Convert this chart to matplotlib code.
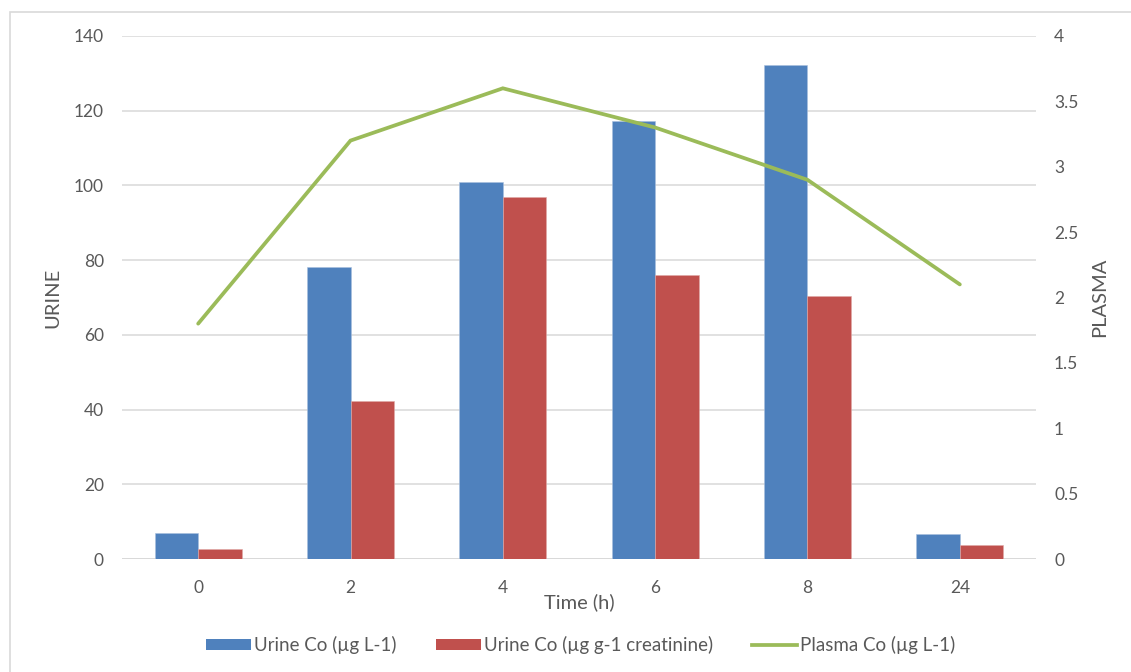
import matplotlib
matplotlib.use("Agg")
import matplotlib.pyplot as plt
from matplotlib.patches import Rectangle
from matplotlib.lines import Line2D
from matplotlib.patches import Patch
import numpy as np

# Data
time_labels = ["0", "2", "4", "6", "8", "24"]
urine_ug_per_l = [6.9, 78.1, 101.0, 117.3, 132.3, 6.7]
urine_ug_per_g_creat = [2.6, 42.4, 97.0, 76.1, 70.3, 3.7]
plasma_ug_per_l = [1.80, 3.20, 3.60, 3.30, 2.90, 2.10]

series_names = ["Urine Co (µg L-1)", "Urine Co (µg g-1 creatinine)", "Plasma Co (µg L-1)"]

BLUE = "#4F81BD"
RED = "#C0504D"
GREEN = "#9BBB59"
GRID = "#D9D9D9"
TEXT = "#595959"
FONT = "Lato"
FS = 12.5        # tick labels
FS_TITLE = 14.5  # axis titles
FS_LEG = 13.5    # legend

plt.rcParams["font.family"] = [FONT, "DejaVu Sans"]

W, H = 1131, 672
fig = plt.figure(figsize=(W / 100, H / 100), dpi=100)

# outer chart frame
fig.patches.append(Rectangle((10 / W, -0.05), 1.2, 1 - 12 / H + 0.05,
                             transform=fig.transFigure, fill=False,
                             edgecolor=GRID, linewidth=1.2))

left, right, top, bottom = 122, 1036, 36, 559
ax = fig.add_axes([left / W, 1 - bottom / H, (right - left) / W, (bottom - top) / H])

x = np.arange(len(time_labels))
bar_w = 1.0 / (2 + 1.5)

ax.bar(x - bar_w / 2, urine_ug_per_l, width=bar_w, color=BLUE, zorder=2,
       edgecolor="#A9C0DE", linewidth=0.4)
ax.bar(x + bar_w / 2, urine_ug_per_g_creat, width=bar_w, color=RED, zorder=2,
       edgecolor="#DFA9A7", linewidth=0.4)

ax.set_xlim(-0.5, len(time_labels) - 0.5)
ax.set_ylim(0, 140)
ax.set_yticks(np.arange(0, 141, 20))
ax.yaxis.grid(True, color=GRID, linewidth=1.1, zorder=0)
ax.set_axisbelow(True)
for s in ax.spines.values():
    s.set_visible(False)
ax.axhline(0, color=GRID, linewidth=1.3, zorder=1)
ax.set_xticks(x)
ax.set_xticklabels(time_labels)
ax.tick_params(axis="both", length=0, labelsize=FS, labelcolor=TEXT)
ax.tick_params(axis="y", pad=13)
ax.tick_params(axis="x", pad=15)

ax2 = ax.twinx()
ax2.plot(x, plasma_ug_per_l, color=GREEN, linewidth=2.7, solid_capstyle="round",
         solid_joinstyle="miter", zorder=3)
ax2.set_ylim(0, 4)
ax2.set_yticks(np.arange(0, 4.01, 0.5))
ax2.set_yticklabels(["0", "0.5", "1", "1.5", "2", "2.5", "3", "3.5", "4"])
for s in ax2.spines.values():
    s.set_visible(False)
ax2.tick_params(axis="y", length=0, labelsize=FS, labelcolor=TEXT, pad=13)

fig.text(53 / W, 1 - 298 / H, "URINE", rotation=90, ha="center", va="center",
         fontsize=FS_TITLE, color=TEXT)
fig.text(1100 / W, 1 - 297 / H, "PLASMA", rotation=90, ha="center", va="center",
         fontsize=FS_TITLE, color=TEXT)
fig.text(579 / W, 1 - 602 / H, "Time (h)", ha="center", va="center",
         fontsize=FS_TITLE, color=TEXT)

handles = [Patch(facecolor=BLUE), Patch(facecolor=RED),
           Line2D([0], [0], color=GREEN, linewidth=2.7)]
leg = fig.legend(handles, series_names, loc="center", bbox_to_anchor=(581 / W, 1 - 645 / H),
                 ncol=3, frameon=False, fontsize=FS_LEG, handlelength=2.4, handleheight=0.55,
                 handletextpad=0.15, columnspacing=2.1)
for t in leg.get_texts():
    t.set_color(TEXT)

fig.savefig("out.png", dpi=100, facecolor="white")
